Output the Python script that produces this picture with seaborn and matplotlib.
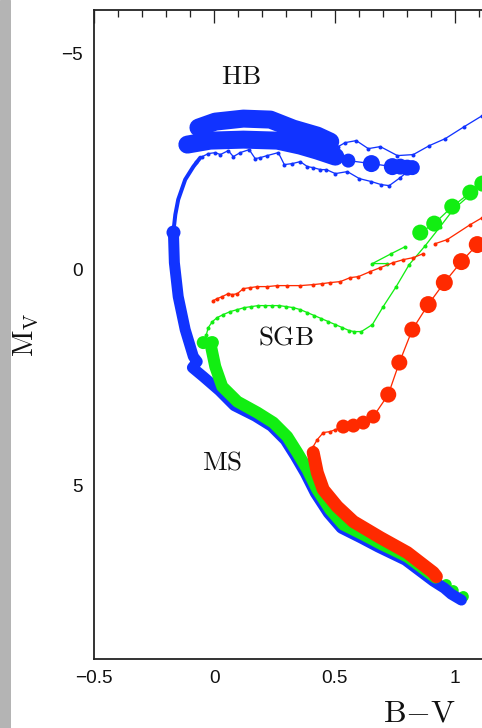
import numpy as np
import matplotlib
matplotlib.use("Agg")
import matplotlib.pyplot as plt
from matplotlib.ticker import MultipleLocator, FuncFormatter
from matplotlib.patches import Rectangle
import seaborn as sns

# ---------------- data (B-V, M_V) ----------------
# blue track
blue_band_bv = [-0.170, -0.166, -0.150, -0.121, -0.087, -0.071, -0.091, -0.046, 0.021, 0.083,
                0.170, 0.237, 0.295, 0.337, 0.378, 0.420, 0.474, 0.528, 0.611, 0.682,
                0.794, 0.910, 0.956, 0.985, 1.027]
blue_band_mv = [-0.878, -0.162, 0.624, 1.387, 2.011, 2.126, 2.265, 2.473, 2.796, 3.143,
                3.386, 3.617, 3.941, 4.311, 4.703, 5.166, 5.628, 5.975, 6.206, 6.414,
                6.714, 7.199, 7.361, 7.500, 7.638]
blue_rise_bv = [-0.170, -0.162, -0.150, -0.121, -0.087, -0.058]
blue_rise_mv = [-0.878, -1.271, -1.618, -2.080, -2.380, -2.588]
blue_hb_upper_bv = [-0.066, 0.004, 0.121, 0.233, 0.328, 0.428, 0.482]
blue_hb_upper_mv = [-3.282, -3.420, -3.490, -3.467, -3.259, -3.097, -2.958]
blue_hb_lower_bv = [-0.112, -0.017, 0.121, 0.262, 0.357, 0.428, 0.503]
blue_hb_lower_mv = [-2.889, -2.981, -3.004, -2.981, -2.866, -2.750, -2.611]
blue_tail_bv = [0.503, 0.557, 0.653, 0.740, 0.773, 0.802, 0.823]
blue_tail_mv = [-2.611, -2.519, -2.450, -2.380, -2.380, -2.357, -2.357]
blue_tail_d = [14, 14, 17, 17, 16, 16, 15]
blue_thin1_bv = [-0.075, -0.050, -0.025, 0.004, 0.025, 0.058, 0.079, 0.108, 0.145, 0.170,
                 0.191, 0.220, 0.266, 0.291, 0.324, 0.357, 0.387, 0.411, 0.441, 0.466,
                 0.503, 0.553, 0.603, 0.653, 0.694, 0.727, 0.773, 0.823]
blue_thin1_mv = [-2.496, -2.611, -2.681, -2.704, -2.658, -2.750, -2.611, -2.704, -2.773, -2.565,
                 -2.588, -2.635, -2.704, -2.427, -2.450, -2.496, -2.380, -2.357, -2.311, -2.311,
                 -2.219, -2.265, -2.103, -2.034, -1.964, -1.941, -2.126, -2.357]
blue_thin2_bv = [0.495, 0.515, 0.544, 0.590, 0.640, 0.690, 0.761, 0.827, 0.894, 0.960,
                 1.039, 1.114, 1.189]
blue_thin2_mv = [-2.727, -2.843, -2.935, -2.981, -2.796, -2.843, -2.635, -2.658, -2.866, -3.027,
                 -3.305, -3.559, -3.836]
blue_knee_bv = [-0.170]
blue_knee_mv = [-0.878]

# green track
green_band_bv = [-0.017, 0.004, 0.033, 0.096, 0.179, 0.245, 0.303, 0.345, 0.387, 0.428,
                 0.482, 0.536, 0.619, 0.690, 0.802, 0.919]
green_band_mv = [1.687, 2.242, 2.704, 3.051, 3.305, 3.536, 3.859, 4.229, 4.622, 5.084,
                 5.547, 5.893, 6.124, 6.332, 6.633, 7.118]
green_end_bv = [0.964, 0.993, 1.035]
green_end_mv = [7.280, 7.419, 7.557]
green_end_d = [11, 11, 11]
green_blob_bv = [-0.046, -0.008]
green_blob_mv = [1.687, 1.687]
green_blob_d = [13, 13]
green_sgb_bv = [-0.037, -0.033, -0.025, -0.008, 0.012, 0.037, 0.066, 0.096, 0.125, 0.154,
                0.183, 0.212, 0.241, 0.270, 0.299, 0.328, 0.357, 0.387, 0.416, 0.445,
                0.474, 0.503, 0.532, 0.561, 0.582, 0.611, 0.657, 0.702, 0.756, 0.810,
                0.877, 0.939, 0.993, 1.064, 1.106, 1.189]
green_sgb_mv = [1.664, 1.502, 1.340, 1.202, 1.109, 1.040, 0.971, 0.924, 0.878, 0.855,
                0.832, 0.832, 0.832, 0.832, 0.855, 0.878, 0.924, 0.994, 1.063, 1.132,
                1.202, 1.271, 1.340, 1.410, 1.433, 1.433, 1.271, 0.855, 0.393, -0.116,
                -0.555, -0.994, -1.387, -1.733, -2.011, -2.404]
green_zig_bv = [0.794, 0.736, 0.657, 0.719]
green_zig_mv = [-0.532, -0.370, -0.139, -0.139]
green_big_bv = [0.856, 0.914, 0.989, 1.064, 1.114, 1.172]
green_big_mv = [-0.855, -1.063, -1.456, -1.780, -1.988, -2.265]
green_big_d = [16, 16, 16, 16, 16, 16]

# red track
red_band_bv = [0.411, 0.428, 0.453, 0.511, 0.578, 0.690, 0.802, 0.910, 0.923]
red_band_mv = [4.229, 4.691, 5.084, 5.477, 5.824, 6.194, 6.540, 7.003, 7.095]
red_link_bv = [0.411, 0.428, 0.453, 0.482, 0.503, 0.536]
red_link_mv = [4.091, 3.929, 3.767, 3.744, 3.698, 3.628]
red_rgb_bv = [0.536, 0.578, 0.619, 0.661, 0.723, 0.769, 0.823, 0.889, 0.956, 1.027, 1.093, 1.160]
red_rgb_mv = [3.628, 3.605, 3.536, 3.397, 2.889, 2.149, 1.387, 0.809, 0.300, -0.185, -0.578, -0.971]
red_rgb_d = [14, 14, 14, 14, 16, 16, 16, 17, 17, 17, 17, 17]
red_thin1_bv = [-0.004, 0.012, 0.033, 0.058, 0.075, 0.096, 0.121, 0.150, 0.179, 0.220,
                0.262, 0.303, 0.357, 0.411, 0.449, 0.482, 0.524, 0.565, 0.599, 0.648,
                0.690, 0.744, 0.786, 0.827, 0.869]
red_thin1_mv = [0.716, 0.670, 0.624, 0.555, 0.578, 0.555, 0.439, 0.416, 0.393, 0.393,
                0.370, 0.370, 0.370, 0.347, 0.324, 0.300, 0.277, 0.185, 0.162, 0.046,
                -0.046, -0.162, -0.231, -0.277, -0.370]
red_thin2_bv = [0.919, 0.968, 1.064, 1.114, 1.189]
red_thin2_mv = [-0.601, -0.693, -1.040, -1.202, -1.433]

labels = {"HB": (0.112, -4.46), "SGB": (0.299, 1.57), "MS": (0.033, 4.46)}

BLUE = "#1133ff"
GREEN = "#12ee12"
RED = "#ff2a00"

# ---------------- style ----------------
sns.set_style("white")
plt.rcParams["font.family"] = ["Liberation Sans", "DejaVu Sans"]
plt.rcParams["mathtext.fontset"] = "cm"

XMIN, XMAX = -0.5, 1.2
PX_PER_UNIT = 240.6
fig = plt.figure(figsize=(482 / 72, 728 / 72), dpi=72)
fig.patch.set_facecolor("white")
fig.add_artist(Rectangle((0, 0), 10 / 482, 1, transform=fig.transFigure,
                         color="#b4b4b4", zorder=0))
ax = fig.add_axes([94 / 482, 69 / 728, (XMAX - XMIN) * PX_PER_UNIT / 482, 649 / 728])


def thin(bv, mv, color):
    sns.lineplot(x=bv, y=mv, sort=False, estimator=None, color=color,
                 linewidth=1.3, marker="o", markersize=4, markeredgewidth=0, ax=ax)


def band(bv, mv, color, width):
    sns.lineplot(x=bv, y=mv, sort=False, estimator=None, color=color,
                 linewidth=width, solid_capstyle="round", solid_joinstyle="round", ax=ax)


def dots(bv, mv, d, color, line=False):
    if line:
        sns.lineplot(x=bv, y=mv, sort=False, estimator=None, color=color,
                     linewidth=1.3, ax=ax)
    sns.scatterplot(x=bv, y=mv, s=np.array(d, float) ** 2, color=color,
                    linewidth=0, ax=ax)


# blue
thin(blue_thin1_bv, blue_thin1_mv, BLUE)
thin(blue_thin2_bv, blue_thin2_mv, BLUE)
band(blue_rise_bv, blue_rise_mv, BLUE, 4)
band(blue_band_bv, blue_band_mv, BLUE, 11)
band(blue_hb_lower_bv, blue_hb_lower_mv, BLUE, 18)
band(blue_hb_upper_bv, blue_hb_upper_mv, BLUE, 18)
dots(blue_tail_bv, blue_tail_mv, blue_tail_d, BLUE, line=True)
dots(blue_knee_bv, blue_knee_mv, [14], BLUE)

# green
thin(green_sgb_bv, green_sgb_mv, GREEN)
thin(green_zig_bv, green_zig_mv, GREEN)
band(green_band_bv, green_band_mv, GREEN, 12)
dots(green_end_bv, green_end_mv, green_end_d, GREEN)
dots(green_blob_bv, green_blob_mv, green_blob_d, GREEN)
dots(green_big_bv, green_big_mv, green_big_d, GREEN, line=True)

# red
thin(red_thin1_bv, red_thin1_mv, RED)
thin(red_thin2_bv, red_thin2_mv, RED)
thin(red_link_bv, red_link_mv, RED)
band(red_band_bv, red_band_mv, RED, 13)
dots(red_rgb_bv, red_rgb_mv, red_rgb_d, RED, line=True)

# text labels
for name, (bx, my) in labels.items():
    ax.text(bx, my, r"$\mathrm{" + name + "}$", fontsize=27, ha="center",
            va="center", color="#111")

ax.set_xlim(XMIN, XMAX)
ax.set_ylim(9, -6)

fmt = FuncFormatter(lambda v, p: f"{v:g}".replace("-", "\u2212"))
ax.xaxis.set_major_locator(MultipleLocator(0.5))
ax.xaxis.set_minor_locator(MultipleLocator(0.1))
ax.yaxis.set_major_locator(MultipleLocator(5))
ax.yaxis.set_minor_locator(MultipleLocator(1))
ax.xaxis.set_major_formatter(fmt)
ax.yaxis.set_major_formatter(fmt)
ax.tick_params(which="both", direction="in", top=True, right=True,
               width=1.3, color="#222", labelsize=19, labelcolor="#111")
ax.tick_params(which="major", length=13)
ax.tick_params(which="minor", length=7)
ax.tick_params(axis="x", pad=11)
ax.tick_params(axis="y", pad=11)
for s in ax.spines.values():
    s.set_linewidth(1.8)
    s.set_color("#222")

ax.set_xlabel(r"$\mathrm{B{-}V}$", fontsize=32, color="#111", va="center")
ax.xaxis.set_label_coords((419 - 94) / ((XMAX - XMIN) * PX_PER_UNIT), (659 - 713) / 649)
ax.set_ylabel(r"$\mathrm{M_V}$", fontsize=29, color="#111", va="center")
ax.yaxis.set_label_coords((26 - 94) / ((XMAX - XMIN) * PX_PER_UNIT), 0.5)

fig.savefig("out.png", dpi=72, facecolor="white")
